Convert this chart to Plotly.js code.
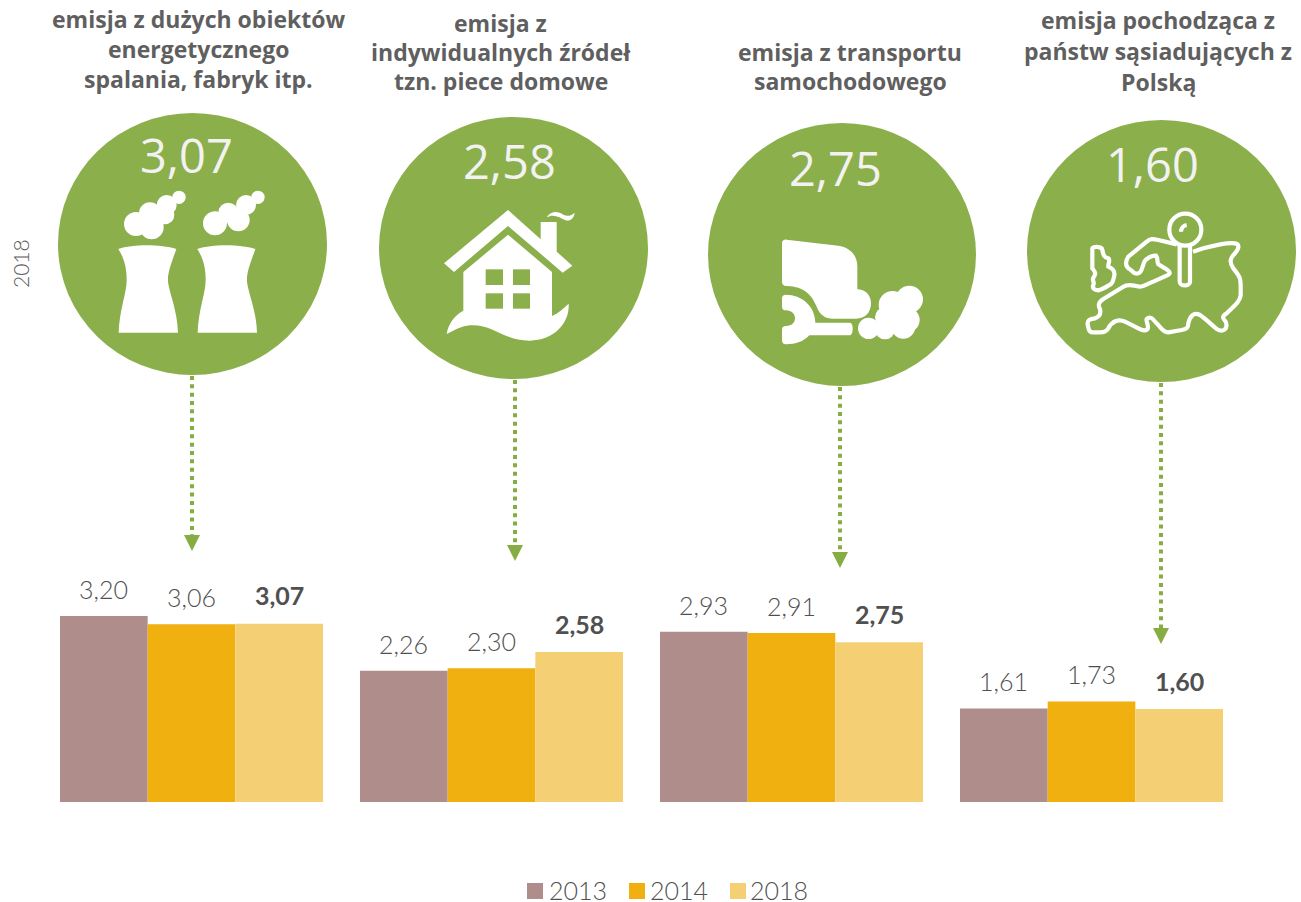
<!DOCTYPE html>
<html lang="pl">
<head>
<meta charset="utf-8">
<script src="https://cdn.plot.ly/plotly-3.0.1.min.js"></script>
<style>html,body{margin:0;padding:0;background:#fff}#chart{width:1301px;height:902px}</style>
</head>
<body>
<div id="chart"></div>
<script>
// ---- data ----
const categories = [
  "emisja z dużych obiektów energetycznego spalania, fabryk itp.",
  "emisja z indywidualnych źródeł tzn. piece domowe",
  "emisja z transportu samochodowego",
  "emisja pochodząca z państw sąsiadujących z Polską"
];
const years = ["2013", "2014", "2018"];
const values2013 = [3.20, 2.26, 2.93, 1.61];
const values2014 = [3.06, 2.30, 2.91, 1.73];
const values2018 = [3.07, 2.58, 2.75, 1.60];
const headingLines = [
  ["emisja z dużych obiektów", "energetycznego", "spalania, fabryk itp."],
  ["emisja z", "indywidualnych źródeł", "tzn. piece domowe"],
  ["emisja z transportu", "samochodowego"],
  ["emisja pochodząca z", "państw sąsiadujących z", "Polską"]
];
const sideLabel = "2018";

// ---- style / layout ----
const W = 1301, H = 902;
const barColors = ["#AF8D8B", "#EFB010", "#F4CF73"];
const green = "#8BAF4B", arrowGreen = "#86AD42", gray = "#595959", white = "#FFFFFF";
const BODY = "Lato, 'Open Sans', sans-serif";
const HEAD = "'Open Sans', sans-serif";
const BIG = "'Open Sans', sans-serif";
const series = [values2013, values2014, values2018];
const fmt = v => v.toFixed(2).replace(".", ",");

const px = x => x / W, py = y => 1 - y / H;
// icon outlines traced in 3x zoomed coordinates relative to an origin
function icon(d, ox, oy) {
  return d.replace(/(-?[\d.]+),(-?[\d.]+)/g, (m, a, b) =>
    px(ox + a / 3).toFixed(5) + "," + py(oy + b / 3).toFixed(5));
}
const paper = { xref: "paper", yref: "paper" };
const shapes = [], annotations = [];
const fillPath = (d, ox, oy, c) => shapes.push({ ...paper, type: "path", path: icon(d, ox, oy), fillcolor: c || white, line: { width: 0 } });
const strokePath = (d, ox, oy) => shapes.push({ ...paper, type: "path", path: icon(d, ox, oy), fillcolor: "rgba(0,0,0,0)", line: { color: white, width: 4.2 } });
const disc = (cx, cy, r, ox, oy) => shapes.push({ ...paper, type: "circle",
  x0: px(ox + (cx - r) / 3), x1: px(ox + (cx + r) / 3), y0: py(oy + (cy + r) / 3), y1: py(oy + (cy - r) / 3),
  fillcolor: white, line: { width: 0 } });

// big circles
const circleBoxes = [[58, 113, 327, 375], [379, 117, 648, 379], [708, 123, 976, 386], [1027, 120, 1296, 382]];
circleBoxes.forEach(b => shapes.push({ ...paper, type: "circle", x0: px(b[0]), x1: px(b[2]), y0: py(b[3]), y1: py(b[1]), fillcolor: green, line: { width: 0 } }));

// dotted arrows
const arrowSpecs = [[192, 376, 535], [515, 380, 545], [840, 387, 552], [1161, 383, 628]];
arrowSpecs.forEach(a => {
  shapes.push({ ...paper, type: "line", x0: px(a[0]), x1: px(a[0]), y0: py(a[1]), y1: py(a[2]), line: { color: arrowGreen, width: 4, dash: "4px,4.33px" } });
  shapes.push({ ...paper, type: "path", path: `M${px(a[0] - 8)},${py(a[2])} L${px(a[0] + 8)},${py(a[2])} L${px(a[0])},${py(a[2] + 16)} Z`, fillcolor: arrowGreen, line: { width: 0 } });
});

// icon 1: cooling towers
const oA = [110, 180];
const tower = s => `M${25 + s},207 C${70 + s},192 ${150 + s},192 ${199 + s},207 C${188 + s},240 ${172 + s},275 ${174 + s},305 C${178 + s},340 ${202 + s},390 ${204 + s},458 L${26 + s},458 C${28 + s},390 ${50 + s},340 ${50 + s},300 C${50 + s},260 ${42 + s},235 ${25 + s},207 Z`;
fillPath(tower(0), ...oA); fillPath(tower(237), ...oA);
[[78,132,36],[125,142,36],[120,100,33],[170,75,30],[165,105,28],[207,52,20],[315,130,36],[385,120,34],[355,98,30],[408,75,30],[444,52,20]]
  .forEach(c => disc(c[0], c[1], c[2], ...oA));

// icon 2: house
const oB = [430, 200];
fillPath("M234,30 L332,118 L332,66 L380,66 L380,155 L427,197 L398,218 L234,78 L72,216 L42,190 Z", ...oB);
fillPath("M234,104 L366,216 L366,348 C385,340 400,325 416,311 C420,370 370,422 300,422 C220,422 190,372 120,376 C95,378 75,390 50,402 C55,370 75,345 100,332 L100,216 Z", ...oB);
fillPath("M350,52 C365,30 385,35 400,44 C410,50 425,48 434,38 C432,55 420,66 405,60 C390,52 370,40 350,52 Z", ...oB);
[[167,208,219,255],[249,208,300,255],[167,280,219,326],[249,280,300,326]].forEach(r =>
  fillPath(`M${r[0]},${r[1]} L${r[2]},${r[1]} L${r[2]},${r[3]} L${r[0]},${r[3]} Z`, ...oB, green));

// icon 3: exhaust pipe
const oC = [770, 230];
fillPath("M36,40 C36,32 42,28 50,29 L205,47 C240,52 262,75 262,110 L262,178 C285,178 303,195 303,220 C303,248 285,266 258,266 L190,266 C165,266 150,255 140,230 C125,195 105,170 50,168 C40,168 36,162 36,155 Z", ...oC);
fillPath("M36,205 C36,198 40,194 48,194 C95,194 135,228 136,278 L238,278 C245,278 248,284 248,295 C248,310 245,316 238,316 L118,316 C100,335 78,343 48,343 C40,343 36,338 36,330 L36,298 C36,292 40,288 48,288 C65,288 75,278 75,265 C75,252 65,241 48,241 C40,241 36,237 36,230 Z", ...oC);
[[296,295,32],[345,298,30],[400,290,36],[412,270,37],[418,208,41],[368,225,42],[345,262,30]].forEach(c => disc(c[0], c[1], c[2], ...oC));

// icon 4: map of Europe with a pin
const oD = [1075, 205];
strokePath("M52,130 C52,125 80,122 82,135 C85,150 88,158 100,160 C108,165 98,175 100,185 C110,190 120,195 118,210 C115,225 115,235 100,242 C90,248 75,255 70,256 C60,255 50,250 55,240 C60,230 50,228 55,218 C65,205 60,200 52,190 Z", ...oD);
strokePath("M354,140 L385,130 C430,118 460,112 480,115 C495,118 492,130 480,145 C465,160 462,170 475,190 C495,215 497,220 497,245 L497,270 C495,290 480,300 455,325 C438,335 445,342 452,350 C460,370 445,385 425,372 C405,355 390,340 375,330 C355,320 345,335 340,355 C340,368 335,372 320,375 L280,382 C265,382 260,370 245,355 C232,340 225,332 215,342 C212,348 222,360 218,372 C210,382 195,372 180,365 L150,350 C130,340 110,350 100,370 C92,382 85,382 75,382 L52,382 C42,382 40,370 38,358 C36,345 45,342 60,340 C75,335 78,325 75,312 C68,300 70,292 85,282 L145,245 C155,238 175,240 195,245 C205,245 215,238 235,230 L275,212 C290,205 285,200 270,190 L250,178 C245,170 250,160 243,152 C232,150 215,160 208,170 C200,190 200,210 180,205 C170,200 170,195 160,190 C150,180 150,170 160,155 L215,110 C225,100 235,102 250,105 L305,118", ...oD);
strokePath("M314,120 L314,230 C314,245 345,245 345,230 L345,122", ...oD);
strokePath("M318,80 C318,70 325,62 335,60", ...oD);
shapes.push({ ...paper, type: "circle", x0: px(oD[0] + 283 / 3), x1: px(oD[0] + 379 / 3), y0: py(oD[1] + 122 / 3), y1: py(oD[1] + 26 / 3), fillcolor: "rgba(0,0,0,0)", line: { color: white, width: 4.2 } });

// headings
const headingCenters = [198, 501, 850, 1158];
const headingRows = [[19, 49, 79], [23, 52, 81], [52, 81], [20, 51, 82]];
headingLines.forEach((lines, i) => lines.forEach((t, j) => annotations.push({
  ...paper, x: px(headingCenters[i]), y: py(headingRows[i][j]), text: t, showarrow: false, xanchor: "center", yanchor: "middle",
  font: { family: HEAD, size: 23, color: "#5F5F5F", weight: 700 }
})));

// big numbers in circles
const bigCenters = [[186, 155], [509, 161], [835, 168], [1152, 164]];
values2018.forEach((v, i) => annotations.push({
  ...paper, x: px(bigCenters[i][0]), y: py(bigCenters[i][1]), text: fmt(v), showarrow: false, xanchor: "center", yanchor: "middle",
  font: { family: BIG, size: 47, color: "#F2F2F2" }
}));

// value labels above bars, anchored to the data
const slot = (1 - 37 / 300) / 3;
series.forEach((vals, s) => vals.forEach((v, i) => annotations.push({
  xref: "x", yref: "y", x: i + (s - 1) * slot, y: v, yshift: s === 2 ? 28.5 : 27, text: s === 2 ? "<b>" + fmt(v) + "</b>" : fmt(v), showarrow: false,
  xanchor: "center", yanchor: "middle", font: { family: BODY, size: 25, color: "#505050", weight: s === 2 ? 700 : 300 }
})));

// side label
annotations.push({ ...paper, x: px(20), y: py(264), text: sideLabel, textangle: -90, showarrow: false, xanchor: "center", yanchor: "middle",
  font: { family: BODY, size: 21, color: gray, weight: 300 } });

// legend
const legendX = [527, 629, 730];
const legendTextX = [546.5, 647.5, 748.5];
years.forEach((yr, i) => {
  shapes.push({ ...paper, type: "rect", x0: px(legendX[i]), x1: px(legendX[i] + 16), y0: py(899), y1: py(883), fillcolor: barColors[i], line: { width: 0 } });
  annotations.push({ ...paper, x: px(legendTextX[i]), y: py(890), text: yr, showarrow: false, xanchor: "left", yanchor: "middle",
    font: { family: BODY, size: 25, color: "#505050", weight: 300 } });
});

const traces = series.map((vals, s) => ({
  type: "bar", name: years[s], x: categories, y: vals, marker: { color: barColors[s], line: { width: 0 } }, hoverinfo: "name+y"
}));

const layout = {
  width: W, height: H, autosize: false, showlegend: false,
  margin: { l: 0, r: 0, t: 0, b: 0, pad: 0 },
  paper_bgcolor: "#fff", plot_bgcolor: "#fff",
  barmode: "group", bargap: 37 / 300, bargroupgap: 0,
  xaxis: { type: "category", visible: false, range: [-0.5 - 41.5 / 300, -0.5 + (W - 41.5) / 300], categoryorder: "array", categoryarray: categories },
  yaxis: { visible: false, range: [(802 - H) / 58.1, 802 / 58.1] },
  shapes, annotations
};
Plotly.newPlot("chart", traces, layout, { displayModeBar: false, responsive: false });
</script>
</body>
</html>
